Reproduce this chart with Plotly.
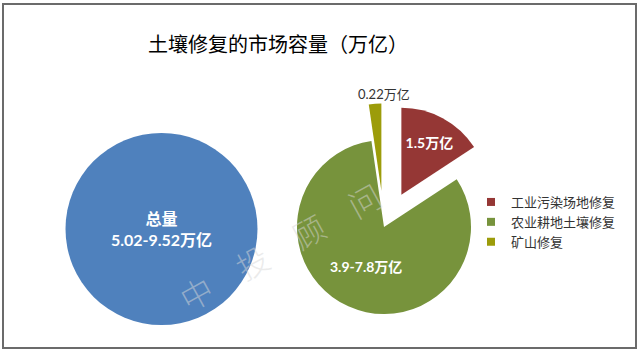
import plotly.graph_objects as go

# ---- data ----
title_text = "土壤修复的市场容量（万亿）"
total_label = "总量<br>5.02-9.52万亿"
total_value = [1]

categories = ["工业污染场地修复", "农业耕地土壤修复", "矿山修复"]
values = [1.5, 7.8, 0.22]
value_labels = ["1.5万亿", "3.9-7.8万亿", "0.22万亿"]
pulls = [0.42, 0, 0.42]
colors = ["#953735", "#77933C", "#9C9C0A"]
watermark = "中　投　顾　问"

W, H = 640, 352
FONT = "Lato, 'Noto Sans CJK SC', sans-serif"
CJK = "'Noto Sans CJK SC', sans-serif"

def px_x(v):
    return v / W

def px_y(v):
    return 1 - v / H

fig = go.Figure()

# Total circle
fig.add_trace(go.Pie(
    values=total_value,
    labels=["总量"],
    text=[total_label],
    textinfo="text",
    textposition="inside",
    insidetextorientation="horizontal",
    insidetextfont=dict(color="white", size=16, family=FONT, weight="bold"),
    marker=dict(colors=["#4F81BD"], line=dict(width=0)),
    domain=dict(x=[px_x(65), px_x(258)], y=[px_y(325), px_y(133)]),
    showlegend=False,
    hoverinfo="skip",
    sort=False,
    automargin=False,
))

# Breakdown pie
r = 87
cx, cy = 384, 227
half = r * (1 + max(pulls))
inner_text = [t if i < 2 else "" for i, t in enumerate(value_labels)]
fig.add_trace(go.Pie(
    values=values,
    labels=categories,
    text=inner_text,
    textinfo="text",
    textposition="inside",
    insidetextorientation="horizontal",
    insidetextfont=dict(color="white", size=14, family=FONT, weight="bold"),
    marker=dict(colors=colors, line=dict(width=0)),
    pull=pulls,
    direction="clockwise",
    rotation=0,
    sort=False,
    domain=dict(x=[px_x(cx - half), px_x(cx + half)],
                y=[max(0, px_y(cy + half)), px_y(cy - half)]),
    showlegend=False,
    hoverinfo="skip",
    automargin=False,
))

# Legend entries (small squares)
for name, col in zip(categories, colors):
    fig.add_trace(go.Scatter(
        x=[None], y=[None], mode="markers", name=name,
        marker=dict(symbol="square", size=8, color=col),
        showlegend=True, hoverinfo="skip",
    ))

fig.update_layout(
    width=W, height=H,
    margin=dict(l=0, r=0, t=0, b=0, autoexpand=False),
    paper_bgcolor="white",
    plot_bgcolor="rgba(0,0,0,0)",
    xaxis=dict(visible=False, automargin=False),
    yaxis=dict(visible=False, automargin=False),
    title=dict(text=title_text, x=px_x(278), xanchor="center",
               y=px_y(45), yanchor="middle",
               font=dict(size=20, color="#000000", family=CJK)),
    legend=dict(x=px_x(471), xanchor="left", y=px_y(187), yanchor="top",
                font=dict(size=13, color="#333333", family=CJK),
                bgcolor="rgba(0,0,0,0)", itemwidth=30, tracegroupgap=0),
    annotations=[
        dict(text=watermark, x=px_x(280), y=px_y(246), xref="paper", yref="paper",
             xanchor="center", yanchor="middle",
             showarrow=False, textangle=-29,
             font=dict(size=32, color="rgba(215,215,215,0.5)", family=CJK, weight=300)),
        dict(text=value_labels[2], x=px_x(cx), y=px_y(cy - r * (1 + pulls[2]) - 9),
             xref="paper", yref="paper", xanchor="center", yanchor="middle",
             showarrow=False,
             font=dict(size=13, color="#333333", family=FONT)),
    ],
    shapes=[dict(type="rect", xref="paper", yref="paper",
                 x0=px_x(3), x1=px_x(636), y0=px_y(348), y1=px_y(4),
                 line=dict(color="#6b6b6b", width=2))],
)

fig.write_html("out.html")
